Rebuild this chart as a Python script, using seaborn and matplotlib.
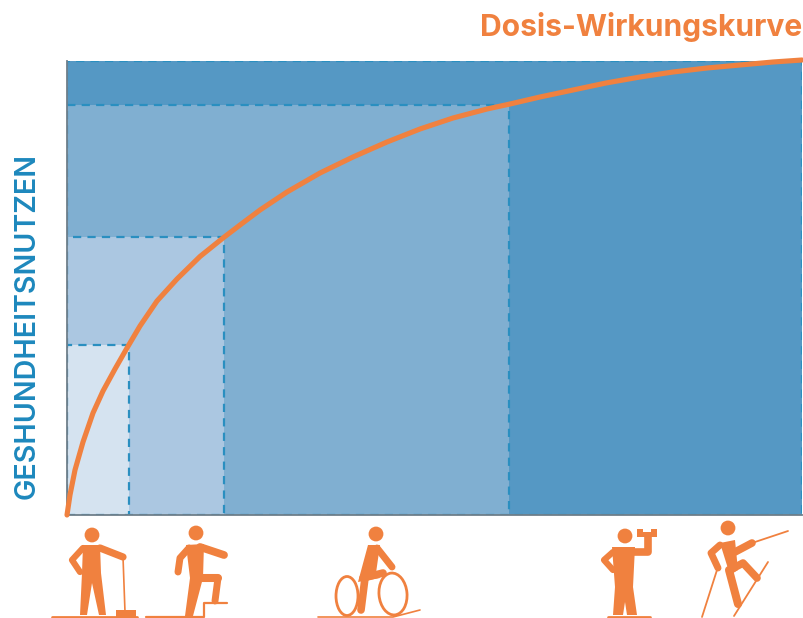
import numpy as np
import pandas as pd
import matplotlib
matplotlib.use('Agg')
import matplotlib.pyplot as plt
from matplotlib.patches import Rectangle, Circle, Ellipse, Polygon
import seaborn as sns

# dose values and benefit
dose = [0, 3, 8, 16, 26, 36, 48, 60, 73, 90, 110, 133, 156, 173, 193, 220, 253, 286, 320,
        353, 386, 420, 443, 473, 506, 539, 573, 606, 640, 673, 706, 735]
benefit = [0, 20, 45, 73, 102, 124, 146, 167, 189, 214, 236, 258.5, 277, 290, 305, 323, 342,
           358, 373, 386, 397, 406, 411, 418, 425, 432, 438, 443, 447, 450, 453, 455]

zone_right = [735, 442, 157, 62]
zone_top = [454, 410, 278, 170]
zone_colors = ['#5598c4', '#80afd1', '#abc7e1', '#d5e3f0']

title_text = 'Dosis-Wirkungskurve'
ylabel_text = 'GESHUNDHEITSNUTZEN'

ORANGE = '#f0813f'
BLUE = '#1d88bd'
DASH = '#2a8fc0'


def limb(ax, pts, width):
    xs, ys = zip(*pts)
    ax.plot(xs, ys, color=ORANGE, lw=width, solid_capstyle='round', solid_joinstyle='round')


def body(ax, pts):
    ax.add_patch(Polygon(pts, color=ORANGE, lw=0))


def head(ax, x, y, r=7.4):
    ax.add_patch(Circle((x, y), r, color=ORANGE, lw=0))


def draw_icons(ax):
    # sweeping
    head(ax, 92, 535)
    limb(ax, [(52, 617), (137, 617)], 2)
    body(ax, [(83, 545), (100, 545), (101, 573), (106, 615), (99, 615), (92, 583), (87, 615),
              (80, 615), (82, 573)])
    limb(ax, [(100, 548), (123, 557)], 5.2)
    limb(ax, [(83, 548), (72, 560), (80, 572)], 4.5)
    limb(ax, [(123, 557), (125, 612)], 1.2)
    ax.add_patch(Rectangle((116, 610), 20, 7, color=ORANGE, lw=0))
    # stairs
    head(ax, 196, 533)
    limb(ax, [(146, 617), (204, 617), (204, 603), (227, 603)], 1.6)
    body(ax, [(186, 545), (204, 544), (203, 578), (193, 616), (185, 616), (190, 578)])
    limb(ax, [(200, 547), (224, 555)], 5.6)
    limb(ax, [(189, 548), (180, 558), (178, 572)], 5)
    limb(ax, [(197, 578), (218, 578)], 5.8)
    limb(ax, [(218, 578), (215, 601)], 5)
    # cycling
    head(ax, 376, 534)
    body(ax, [(368, 545), (380, 545), (376, 573), (380, 578), (358, 582)])
    limb(ax, [(377, 548), (392, 567)], 5)
    limb(ax, [(363, 578), (383, 573)], 5.5)
    limb(ax, [(365, 578), (361, 610)], 5.5)
    ax.add_patch(Ellipse((347, 596), 22, 39, fill=False, ec=ORANGE, lw=2))
    ax.add_patch(Ellipse((393, 594), 28, 42, angle=-5, fill=False, ec=ORANGE, lw=2))
    limb(ax, [(318, 617), (393, 617), (420, 610)], 1.2)
    # dumbbell
    head(ax, 625, 536)
    body(ax, [(612, 547), (635, 547), (633, 587), (637, 615), (627, 615), (625, 602), (623, 615),
              (613, 615), (615, 587)])
    limb(ax, [(633, 552), (648, 552), (648, 537)], 5.5)
    limb(ax, [(613, 552), (604, 560), (613, 570)], 4.5)
    body(ax, [(637, 529), (643, 529), (643, 532), (651, 532), (651, 529), (657, 529), (657, 537),
              (637, 537)])
    limb(ax, [(608, 617), (650, 617)], 2)
    # hiking
    head(ax, 728, 528)
    body(ax, [(720, 543), (735, 540), (738, 570), (730, 575)])
    limb(ax, [(729, 570), (738, 604)], 5.8)
    limb(ax, [(735, 552), (752, 543)], 5.5)
    limb(ax, [(730, 570), (743, 563), (757, 578)], 5.5)
    limb(ax, [(720, 545), (711, 553), (718, 568)], 5)
    limb(ax, [(752, 543), (788, 531)], 1.3)
    limb(ax, [(717, 570), (702, 617)], 1.3)
    limb(ax, [(768, 562), (734, 616)], 1.3)


def main():
    sns.set_theme(style='white')
    plt.rcParams['font.family'] = ['Inter', 'DejaVu Sans']

    fig = plt.figure(figsize=(8.04, 6.18), dpi=100)
    ax = fig.add_axes([67 / 804, 1 - 515 / 618, 735 / 804, 454 / 618])

    for right, top, color in zip(zone_right, zone_top, zone_colors):
        ax.add_patch(Rectangle((0, 0), right, top, facecolor=color, edgecolor=DASH,
                               lw=1.6, ls=(0, (3.7, 2.8))))

    df = pd.DataFrame({'dose': dose, 'benefit': benefit})
    sns.lineplot(data=df, x='dose', y='benefit', color=ORANGE, lw=3.7, ax=ax,
                 clip_on=False, zorder=5, estimator=None, sort=False)

    ax.set_xlim(0, 735)
    ax.set_ylim(0, 454)
    ax.set_xticks([])
    ax.set_yticks([])
    ax.set_xlabel('')
    for side in ['top', 'right']:
        ax.spines[side].set_visible(False)
    for side in ['left', 'bottom']:
        ax.spines[side].set_color('#6f7f8a')
        ax.spines[side].set_linewidth(1.3)

    ax.set_ylabel(ylabel_text, fontsize=20.6, color=BLUE, fontweight='semibold', labelpad=19, y=0.416)
    ax.set_title(title_text, loc='right', fontsize=21.6, color=ORANGE, fontweight='bold', pad=18)

    overlay = fig.add_axes([0, 0, 1, 1], facecolor='none')
    overlay.set_xlim(0, 804)
    overlay.set_ylim(618, 0)
    overlay.axis('off')
    draw_icons(overlay)

    plt.savefig('out.png', dpi=100)
    plt.close()


if __name__ == "__main__":
    main()
